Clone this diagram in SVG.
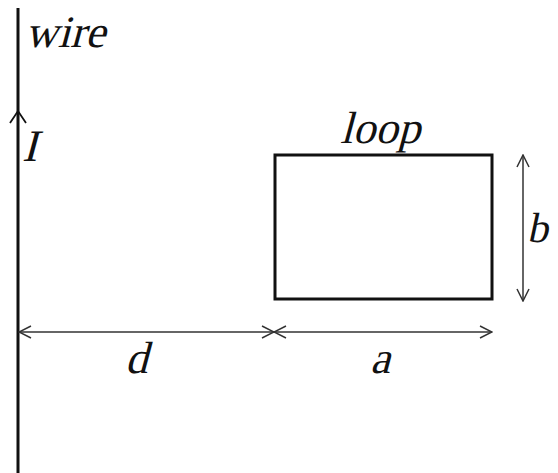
<svg xmlns="http://www.w3.org/2000/svg" width="558" height="473" viewBox="0 0 558 473">
<style>
.thick{stroke:#111;stroke-width:3;fill:none}
.dim{stroke:#333;stroke-width:1.5;fill:none}
</style>
<defs>
<marker id="ah" viewBox="0 0 14 14" refX="13" refY="7" markerWidth="14" markerHeight="14" markerUnits="userSpaceOnUse" orient="auto-start-reverse">
<path d="M1,1 L13,7 L1,13" fill="none" stroke="#333" stroke-width="1.5"/>
</marker>
</defs>
<rect width="558" height="473" fill="#fff"/>
<g font-family="Liberation Serif" font-size="45" fill="#111">
<g id="wire">
<line class="thick" x1="18" y1="8" x2="18" y2="473"/>
<text transform="translate(25,47) skewX(-15)">wire</text>
</g>
<g id="current">
<path d="M10,123 L18,111 L26,123" fill="none" stroke="#111" stroke-width="1.8"/>
<text transform="translate(22,161) skewX(-15)">I</text>
</g>
<g id="loop">
<rect class="thick" x="275" y="155" width="217" height="144"/>
<text transform="translate(340,143) skewX(-15)">loop</text>
</g>
<g id="connectors">
<line class="dim" x1="19" y1="332" x2="274" y2="332" marker-start="url(#ah)" marker-end="url(#ah)"/>
<line class="dim" x1="274" y1="332" x2="492" y2="332" marker-start="url(#ah)" marker-end="url(#ah)"/>
<line class="dim" x1="523" y1="155" x2="523" y2="301" marker-start="url(#ah)" marker-end="url(#ah)"/>
</g>
<g id="labels">
<text transform="translate(125,373) skewX(-15)">d</text>
<text transform="translate(370,373) skewX(-15)">a</text>
<text transform="translate(527,242) skewX(-12)" font-size="42">b</text>
</g>
</g>
</svg>
